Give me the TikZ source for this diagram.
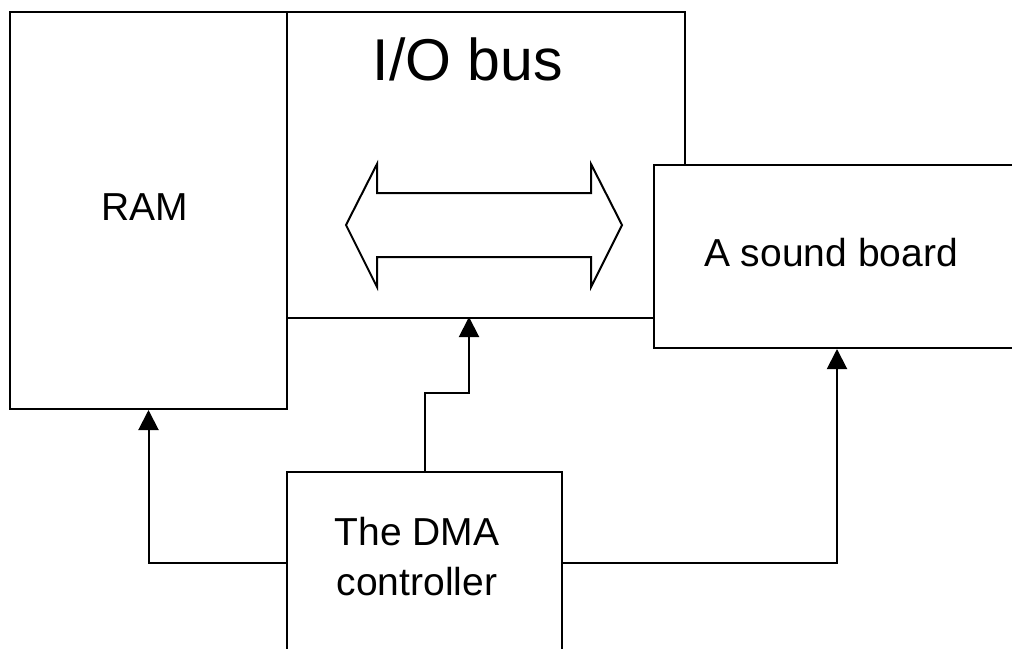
\documentclass[tikz,border=0pt]{standalone}
\usepackage{fontspec}
\setmainfont{Liberation Sans}
\usetikzlibrary{arrows.meta}
\begin{document}
\begin{tikzpicture}[x=1pt,y=1pt,
  box/.style={draw=black, line width=2pt, fill=white, inner sep=0pt, anchor=north west},
  conn/.style={draw=black, line width=2pt, -{Triangle[width=20pt,length=20pt]}},
  txt/.style={inner sep=0pt, anchor=base, font=\fontsize{39}{50}\selectfont, align=center}]
\useasboundingbox (0,0) rectangle (1012,-648);
\fill[white] (0,0) rectangle (1012,-648);
\clip (0,0) rectangle (1012,-648);
% boxes
\node[box, minimum width=277pt, minimum height=397pt] (ram) at (9,-11) {};
\node[box, minimum width=398pt, minimum height=306pt] (iobus) at (286,-11) {};
\node[box, minimum width=366pt, minimum height=183pt] (sound) at (653,-164) {};
\node[box, minimum width=275pt, minimum height=181pt] (dma) at (286,-471) {};
% texts
\node[txt] (ramtxt) at (145,-220) {RAM};
\node[txt, font=\fontsize{59}{60}\selectfont] (iotxt) at (468,-80) {I/O bus};
\node[txt] (soundtxt) at (831,-266) {A sound board};
\node[txt, anchor=north] (dmatxt) at (417,-517) {The DMA\\controller};
% double arrow
\draw[line width=2pt, line join=miter] (346,-225) -- (377,-164) -- (377,-193) -- (591,-193) -- (591,-164)
  -- (622,-225) -- (591,-287) -- (591,-257) -- (377,-257) -- (377,-287) -- cycle;
% connectors
\coordinate (busin) at (469,-317);
\draw[conn] (dma.west) -| (ram.south);
\draw[conn] (dma.north) -- ++(0,78) -| (busin);
\draw[conn] (dma.east) -| (sound.south);
\end{tikzpicture}
\end{document}
